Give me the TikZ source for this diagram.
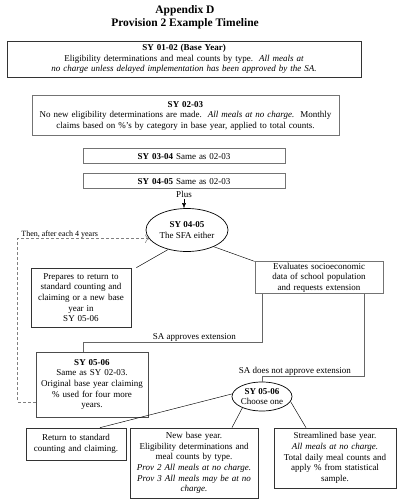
\documentclass[tikz,border=0pt]{standalone}
\usepackage{fontspec}
\setmainfont{Liberation Serif}
\usepackage{tikz}
\usetikzlibrary{positioning,arrows.meta,shapes.geometric}
\newcommand{\bodyfont}{\fontsize{9}{10.6}\selectfont}
\newcommand{\smallfont}{\fontsize{8}{9}\selectfont}
\tikzset{
  yearbox/.style={draw=black!80, line width=0.7pt, align=center, inner sep=1pt, font=\bodyfont},
  greybox/.style={yearbox, draw=black!55, line width=0.9pt},
  choice/.style={ellipse, draw, line width=0.7pt, align=center, inner ysep=-2pt, font=\bodyfont},
  link/.style={draw, line width=0.45pt},
  route/.style={draw=black!60, line width=0.9pt},
  loopback/.style={draw=black!50, line width=0.5pt, dash pattern=on 3pt off 2pt, -{To[length=4pt]}},
  lbl/.style={font=\bodyfont, inner sep=1pt},
}

\begin{document}
\begin{tikzpicture}[x=1pt, y=-1pt]
\useasboundingbox (0,0) rectangle (400,503);

% Define nodes

\node[font=\bfseries\fontsize{11.5}{13.5}\selectfont, align=center] (title) at (185,17) {Appendix D\\Provision 2 Example Timeline};

\node[yearbox, text width=352pt, minimum height=36pt] (base) at (184,59)
  {\textbf{SY 01-02 (Base Year)}\\Eligibility determinations and meal counts by type.\ \ \textit{All meals at}\\\textit{no charge unless delayed implementation has been approved by the SA.}};
\node[greybox, text width=305pt, minimum height=40pt, below=18pt of base, xshift=1.5pt] (same)
  {\textbf{SY 02-03}\\No new eligibility determinations are made.\ \ \textit{All meals at no charge.}\ \ Monthly\\claims based on \%'s by category in base year, applied to total counts.};
\node[greybox, text width=200pt, minimum height=15pt, below=12pt of same, xshift=-1.5pt] (yr3)
  {\textbf{SY 03-04} Same as 02-03};
\node[greybox, text width=200pt, minimum height=15pt, below=9pt of yr3] (yr4)
  {\textbf{SY 04-05} Same as 02-03};
\node[lbl, below=1pt of yr4] (plus) {Plus};

\node[choice, minimum width=82pt, minimum height=43pt, inner xsep=-3pt] (sfa) at (187,230)
  {\textbf{SY 04-05}\\The SFA either};

\node[yearbox, text width=98pt, minimum height=59pt] (prep) at (81,297.5)
  {Prepares to return to\\standard counting and\\claiming or a new base\\year in\\SY 05-06};
\node[greybox, text width=126pt, minimum height=27pt] (eval) at (319,277.5)
  {Evaluates socioeconomic\\data of school population\\and requests extension};

\node[yearbox, draw=black!70, text width=110pt, minimum height=65pt] (keep) at (92,384.5)
  {\textbf{SY 05-06}\\Same as SY 02-03.\\Original base year claiming\\\% used for four more\\years.};

\node[choice, minimum width=60pt, minimum height=29pt, inner xsep=-6pt] (choose) at (262,396.5)
  {\textbf{SY 05-06}\\Choose one};

\node[yearbox, text width=98pt, minimum height=32pt] (std) at (76,444)
  {Return to standard\\counting and claiming.};
\node[yearbox, line width=0.9pt, text width=126pt, minimum height=70pt] (newb) at (194,463)
  {New base year.\\Eligibility determinations and\\meal counts by type.\\\textit{Prov 2 All meals at no charge.}\\\textit{Prov 3 All meals may be at no}\\\textit{charge.}};
\node[yearbox, text width=120pt, minimum height=60pt] (strm) at (335,458)
  {Streamlined base year.\\\textit{All meals at no charge.}\\Total daily meal counts and\\apply \% from statistical\\sample.};

% Connect the nodes
\draw[-{Latex[length=5pt,width=4pt]}] (plus.south) -- (plus.south |- sfa.north) ; %
\draw[link] (sfa.-134) -- ([xshift=5pt]prep.north east) ; %
\draw[link] (sfa.-32) -- (eval.north west) ; %

\draw[route] ([xshift=8pt]eval.south west) -- ++(0,49)
  -| node[lbl, pos=0.19, above] {SA approves extension} ([xshift=-9pt]keep.north) ; %
\draw[route] ([xshift=-19pt]eval.south east) -- ++(0,83)
  -| node[lbl, pos=0.34, above] {SA does not approve extension} (choose.north) ; %

\draw[loopback] ([yshift=-17.5pt]keep.west) -- ++(-18,0)
  |- node[lbl, font=\smallfont, above right, xshift=3pt, inner sep=0.5pt] {Then, after each 4 years} (sfa.193) ; %

\draw[link] (choose.175) -- ([xshift=24pt]std.north) ; %
\draw[link] (choose.-150) -- ([xshift=38pt]newb.north) ; %
\draw[link] (choose.-10) -- ([xshift=-29pt]strm.north) ; %

\end{tikzpicture}
\end{document}
